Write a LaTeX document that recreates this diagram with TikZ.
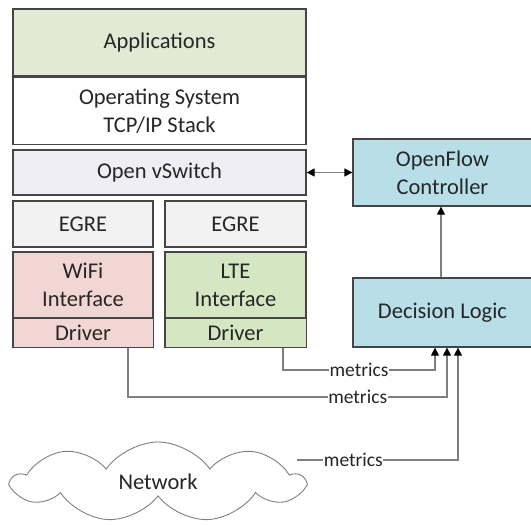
\documentclass[tikz,border=0pt]{standalone}
\usepackage{fontspec}
\setmainfont{Carlito}
\usetikzlibrary{shapes.symbols,arrows.meta}
\definecolor{bord}{HTML}{454545}
\definecolor{linec}{HTML}{7F7F7F}
\definecolor{txt}{HTML}{262626}
\definecolor{appc}{HTML}{E2EAD6}
\definecolor{vswc}{HTML}{EFEEF4}
\definecolor{egrec}{HTML}{F2F2F2}
\definecolor{wific}{HTML}{F2D6D3}
\definecolor{ltec}{HTML}{D5E6C2}
\definecolor{bluec}{HTML}{B8DFE8}
\tikzset{
  box/.style={draw=bord, line width=1.3pt, rectangle, inner sep=0pt, align=center,
    font=\fontsize{22.5}{28}\selectfont, text=txt},
  conn/.style={draw=linec, line width=1.3pt},
  tip/.style={-{Triangle[length=8pt,width=8pt,color=black]}},
  lab/.style={fill=white, inner sep=0.5pt, font=\fontsize{19.5}{21}\selectfont, text=txt},
}
\begin{document}
\begin{tikzpicture}[x=1pt,y=-1pt]
\useasboundingbox (0,0) rectangle (531,525);
% left stack
\node[box, fill=appc, minimum width=293, minimum height=67] (app) at (159.5,42.5) {Applications};
\node[box, fill=white, minimum width=293, minimum height=67] (os) at (159.5,111) {Operating System\\TCP/IP Stack};
\node[box, fill=vswc, minimum width=293, minimum height=45] (vsw) at (159.5,172.5) {Open vSwitch};
\node[box, fill=egrec, minimum width=140, minimum height=46] (egrel) at (83,224) {EGRE};
\node[box, fill=egrec, minimum width=141, minimum height=46] (egrer) at (235.5,224) {EGRE};
\node[box, fill=wific, minimum width=140, minimum height=66] (wifi) at (83,285) {WiFi\\Interface};
\node[box, fill=wific, minimum width=140, minimum height=29, line width=1pt] (wdrv) at (83,332.5) {Driver};
\node[box, fill=ltec, minimum width=141, minimum height=66] (lte) at (235.5,285) {LTE\\Interface};
\node[box, fill=ltec, minimum width=141, minimum height=29, line width=1pt] (ldrv) at (235.5,332.5) {Driver};
\draw[draw=bord, line width=1.3pt] (wifi.north west) rectangle (wdrv.south east);
\draw[draw=bord, line width=1.3pt] (lte.north west) rectangle (ldrv.south east);
% right side
\node[box, fill=bluec, minimum width=179, minimum height=67] (ofc) at (442.5,172.5) {OpenFlow\\Controller};
\node[box, fill=bluec, minimum width=179, minimum height=69] (dl) at (442.5,312.5) {Decision Logic};
% cloud
\node[cloud, cloud puffs=9, cloud puff arc=110, aspect=3.6, draw=linec, line width=0.9pt,
  minimum width=290, minimum height=80, inner sep=0pt, font=\fontsize{22.5}{25}\selectfont, text=txt] (net) at (158,482) {Network};
\coordinate (netout) at (297,460);
% connectors
\draw[conn, {Triangle[length=8pt,width=8pt,color=black]}-{Triangle[length=8pt,width=8pt,color=black]}] (vsw.east) -- (ofc.west);
\draw[conn, tip] (dl.north -| 441,0) -- (ofc.south -| 441,0);
\draw[conn, tip] ([xshift=47.5pt]ldrv.south) |- (435,370) node[lab, pos=0.75] {metrics} -- (dl.south -| 435,0);
\draw[conn, tip] ([xshift=45pt]wdrv.south) |- (447,397) node[lab, pos=0.86] {metrics} -- (dl.south -| 447,0);
\draw[conn, tip] (netout) -- (458,460) node[lab, pos=0.35] {metrics} -- (dl.south -| 458,0);
\end{tikzpicture}
\end{document}
